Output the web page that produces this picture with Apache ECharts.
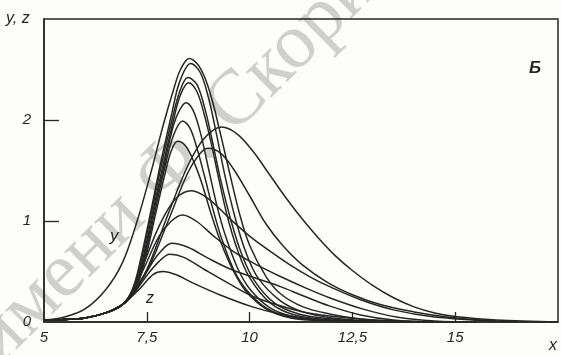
<!DOCTYPE html>
<html>
<head>
<meta charset="utf-8">
<script src="https://cdn.jsdelivr.net/npm/echarts@6/dist/echarts.min.js"></script>
<style>
html,body{margin:0;padding:0;background:#fdfdfb;}
#chart{width:561px;height:355px;}
</style>
</head>
<body>
<div id="chart"></div>
<script>
// ---- data ----
const xTickValues = [5, 7.5, 10, 12.5, 15];
const yTickValues = [0, 1, 2];
const trunk = [[5,0.02],[5.5,0.025],[6,0.04],[6.5,0.09],[6.9,0.17]];

// tall narrow curves (y)
const curveA1 = [[5,0.02],[5.5,0.05],[6,0.13],[6.5,0.32],[6.9,0.58],[7.25,0.98],[7.6,1.48],[7.9,1.95],[8.15,2.3],[8.32,2.5],[8.53,2.61],[8.74,2.55],[8.91,2.42],[9.08,2.21],[9.27,1.9],[9.5,1.5],[9.75,1.08],[10.0,0.76],[10.4,0.45],[10.75,0.28],[11.3,0.15],[11.94,0.08],[12.7,0.03],[13.5,0.01],[15,0]];
const curveA2 = [[7.15,0.32],[7.35,0.62],[7.6,1.1],[7.85,1.6],[8.1,2.05],[8.3,2.38],[8.57,2.56],[8.8,2.47],[9.0,2.22],[9.2,1.85],[9.4,1.45],[9.65,1.03],[9.9,0.7],[10.2,0.44],[10.75,0.21],[11.3,0.1],[12,0.04],[13,0.01],[14,0]];
const curveA3 = [[7.15,0.32],[7.37,0.62],[7.62,1.1],[7.87,1.58],[8.1,1.98],[8.3,2.28],[8.5,2.42],[8.72,2.35],[8.92,2.1],[9.1,1.78],[9.3,1.4],[9.55,1.0],[9.8,0.68],[10.1,0.42],[10.6,0.19],[11.2,0.08],[12,0.03],[13,0]];
const curveA4 = [[7.17,0.32],[7.4,0.62],[7.65,1.1],[7.9,1.56],[8.12,1.95],[8.32,2.25],[8.52,2.37],[8.72,2.28],[8.9,2.05],[9.05,1.8],[9.25,1.42],[9.45,1.06],[9.7,0.72],[10,0.44],[10.5,0.19],[11.1,0.07],[12,0.02],[13,0]];
const curveA5 = [[7.18,0.32],[7.42,0.62],[7.67,1.1],[7.92,1.55],[8.15,1.95],[8.3,2.1],[8.45,2.17],[8.62,2.1],[8.8,1.88],[9.0,1.52],[9.2,1.16],[9.4,0.87],[9.7,0.54],[10.0,0.33],[10.5,0.14],[11.1,0.05],[12,0.01],[13,0]];
const curveA6 = [[7.2,0.32],[7.44,0.62],[7.7,1.1],[7.95,1.55],[8.15,1.85],[8.37,1.99],[8.55,1.92],[8.72,1.72],[8.9,1.45],[9.1,1.13],[9.3,0.85],[9.6,0.53],[9.9,0.33],[10.4,0.14],[11,0.05],[12,0.01],[13,0]];
const curveA7 = [[7.22,0.32],[7.46,0.62],[7.72,1.08],[7.95,1.48],[8.1,1.7],[8.25,1.79],[8.45,1.74],[8.65,1.58],[8.85,1.36],[9.05,1.09],[9.3,0.79],[9.6,0.51],[9.9,0.31],[10.4,0.13],[11,0.04],[12,0.01],[13,0]];

// broad curves
const curveB1 = [[7.0,0.2],[7.5,0.52],[8.0,1.05],[8.5,1.55],[8.9,1.82],[9.32,1.93],[9.7,1.86],[10.1,1.68],[10.5,1.45],[10.9,1.22],[11.3,1.01],[11.7,0.82],[12.1,0.65],[12.5,0.51],[13.0,0.36],[13.5,0.24],[14.0,0.15],[14.5,0.09],[15.0,0.055],[16,0.02],[17.5,0]];
const curveB2 = [[7.0,0.2],[7.5,0.5],[8.0,0.98],[8.5,1.48],[8.8,1.67],[9.0,1.72],[9.3,1.67],[9.6,1.52],[10.0,1.25],[10.4,0.97],[10.8,0.76],[11.3,0.56],[11.9,0.39],[12.5,0.27],[13.2,0.17],[14.0,0.1],[14.8,0.05],[15.6,0.02],[16.5,0]];

// lower curves (z)
const curveL5 = [[7.15,0.3],[7.45,0.6],[7.8,0.95],[8.2,1.22],[8.59,1.30],[9.0,1.22],[9.5,1.03],[10.0,0.85],[10.5,0.7],[11.0,0.56],[11.5,0.44],[12.0,0.34],[12.7,0.22],[13.5,0.12],[14.5,0.05],[16,0.01]];
const curveL4 = [[7.15,0.3],[7.45,0.55],[7.8,0.85],[8.1,1.0],[8.37,1.06],[8.7,1.0],[9.1,0.86],[9.6,0.7],[10.2,0.56],[10.75,0.45],[11.4,0.33],[11.94,0.24],[12.74,0.13],[13.57,0.05],[14.5,0.01],[15.5,0]];
const curveL3 = [[7.2,0.3],[7.5,0.5],[7.8,0.68],[8.11,0.78],[8.5,0.74],[9.0,0.63],[9.5,0.53],[10.1,0.44],[10.75,0.35],[11.3,0.26],[11.94,0.16],[12.7,0.07],[13.5,0.02],[14.5,0]];
const curveL2 = [[7.2,0.29],[7.5,0.46],[7.8,0.6],[8.06,0.67],[8.4,0.64],[8.9,0.52],[9.5,0.38],[10.1,0.25],[10.75,0.16],[11.3,0.1],[11.94,0.06],[12.7,0.03],[13.5,0.01],[14.5,0]];
const curveL1 = [[7.33,0.33],[7.65,0.47],[7.89,0.50],[8.2,0.47],[8.6,0.39],[9.27,0.27],[10.07,0.15],[10.75,0.08],[11.5,0.03],[12.5,0.01],[13.5,0]];

const curves = [
  curveA1,
  trunk.concat(curveA2), trunk.concat(curveA3), trunk.concat(curveA4),
  trunk.concat(curveA5), trunk.concat(curveA6), trunk.concat(curveA7),
  trunk.concat(curveB1), trunk.concat(curveB2),
  trunk.concat(curveL5), trunk.concat(curveL4), trunk.concat(curveL3),
  trunk.concat(curveL2), trunk.concat(curveL1)
];

const ink = '#262626';
const labelFont = {fontFamily: 'Liberation Sans', fontStyle: 'italic', fontSize: 15, color: ink};
const fmt = v => String(v).replace('.', ',');

const chart = echarts.init(document.getElementById('chart'), null, {renderer: 'canvas'});
chart.setOption({
  animation: false,
  backgroundColor: '#fdfdfb',
  grid: {left: 44, right: 3, top: 19, bottom: 33, show: true, borderColor: ink, borderWidth: 1.5, backgroundColor: 'transparent'},
  xAxis: {
    type: 'value', min: 5, max: 17.5, interval: 2.5,
    axisLine: {lineStyle: {color: ink, width: 1.5}},
    axisTick: {show: true, inside: true, length: 10, lineStyle: {color: ink, width: 1.3}, customValues: [7.5, 10, 12.5, 15]},
    axisLabel: Object.assign({margin: 8, customValues: xTickValues, formatter: fmt}, labelFont),
    splitLine: {show: false}
  },
  yAxis: {
    type: 'value', min: 0, max: 3, interval: 1,
    axisLine: {show: true, lineStyle: {color: ink, width: 1.5}},
    axisTick: {show: true, inside: true, length: 15, lineStyle: {color: ink, width: 1.3}, customValues: [1, 2]},
    axisLabel: Object.assign({margin: 13, customValues: yTickValues, formatter: fmt}, labelFont),
    splitLine: {show: false}
  },
  graphic: [
    {type: 'text', left: 6, top: 11, style: {text: 'y, z', font: 'italic 16px "Liberation Sans"', fill: ink}},
    {type: 'text', left: 549, top: 338, style: {text: 'x', font: 'italic 16px "Liberation Sans"', fill: ink}},
    {type: 'text', left: 529, top: 60, style: {text: 'Б', font: 'italic bold 17px "Liberation Sans"', fill: ink}},
    {type: 'text', left: 110, top: 228, style: {text: 'y', font: 'italic 17px "Liberation Sans"', fill: ink}},
    {type: 'text', left: 146, top: 291, style: {text: 'z', font: 'italic 16px "Liberation Sans"', fill: ink}},
    {type: 'text', x: 12, y: 380, rotation: 0.78, z: -1,
     style: {text: 'имени Ф. Скорины', font: '78px "Liberation Serif"', fill: 'rgba(150,150,150,0.45)', textVerticalAlign: 'bottom'}}
  ],
  series: curves.map(c => ({
    type: 'line', data: c, smooth: 0.35, showSymbol: false, symbol: 'none',
    lineStyle: {color: ink, width: 1.5}, z: 3
  }))
});
</script>
</body>
</html>
